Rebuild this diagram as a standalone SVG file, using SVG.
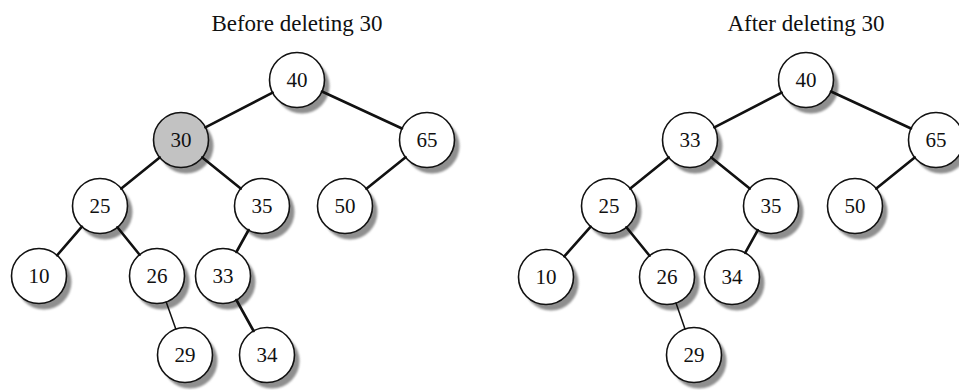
<svg xmlns="http://www.w3.org/2000/svg" width="959" height="390" viewBox="0 0 959 390">
<style>
.sh{fill:#8f8f8f;filter:url(#bl)}
.c{fill:#fff;stroke:#111;stroke-width:1.6}
.g{fill:#c2c2c2}
.t{font-family:"Liberation Serif",serif;font-size:21px;fill:#111;text-anchor:middle;dominant-baseline:central}
.ti{font-family:"Liberation Serif",serif;font-size:23px;fill:#111;text-anchor:middle}
.e line{stroke:#111;stroke-width:2.6;stroke-linecap:round}
.e line.th{stroke-width:1.5}
</style>
<defs>
<filter id="bl" x="-20%" y="-20%" width="140%" height="140%"><feGaussianBlur stdDeviation="1.2"/></filter>
</defs>
<rect width="959" height="390" fill="#fff"/>
<text class="ti" x="297" y="31">Before deleting 30</text>
<text class="ti" x="806" y="31">After deleting 30</text>

<g id="L40"><circle class="sh" cx="302" cy="86" r="27.5"/><circle class="c" cx="297" cy="80" r="27.5"/><text class="t" x="297" y="80">40</text></g>
<g id="L30"><circle class="sh" cx="186" cy="146" r="27.5"/><circle class="c g" cx="181" cy="140" r="27.5"/><text class="t" x="181" y="140">30</text></g>
<g id="L65"><circle class="sh" cx="432" cy="146" r="27.5"/><circle class="c" cx="427" cy="140" r="27.5"/><text class="t" x="427" y="140">65</text></g>
<g id="L25"><circle class="sh" cx="105" cy="212" r="27.5"/><circle class="c" cx="100" cy="206" r="27.5"/><text class="t" x="100" y="206">25</text></g>
<g id="L35"><circle class="sh" cx="267" cy="212" r="27.5"/><circle class="c" cx="262" cy="206" r="27.5"/><text class="t" x="262" y="206">35</text></g>
<g id="L50"><circle class="sh" cx="350" cy="212" r="27.5"/><circle class="c" cx="345" cy="206" r="27.5"/><text class="t" x="345" y="206">50</text></g>
<g id="L10"><circle class="sh" cx="44" cy="282" r="27.5"/><circle class="c" cx="39" cy="276" r="27.5"/><text class="t" x="39" y="276">10</text></g>
<g id="L26"><circle class="sh" cx="162" cy="282" r="27.5"/><circle class="c" cx="157" cy="276" r="27.5"/><text class="t" x="157" y="276">26</text></g>
<g id="L33"><circle class="sh" cx="228" cy="282" r="27.5"/><circle class="c" cx="223" cy="276" r="27.5"/><text class="t" x="223" y="276">33</text></g>
<g id="L29"><circle class="sh" cx="190" cy="361" r="27.5"/><circle class="c" cx="185" cy="355" r="27.5"/><text class="t" x="185" y="355">29</text></g>
<g id="L34"><circle class="sh" cx="272" cy="361" r="27.5"/><circle class="c" cx="267" cy="355" r="27.5"/><text class="t" x="267" y="355">34</text></g>

<g id="R40"><circle class="sh" cx="811" cy="86" r="27.5"/><circle class="c" cx="806" cy="80" r="27.5"/><text class="t" x="806" y="80">40</text></g>
<g id="R33"><circle class="sh" cx="695" cy="146" r="27.5"/><circle class="c" cx="690" cy="140" r="27.5"/><text class="t" x="690" y="140">33</text></g>
<g id="R65"><circle class="sh" cx="941" cy="146" r="27.5"/><circle class="c" cx="936" cy="140" r="27.5"/><text class="t" x="936" y="140">65</text></g>
<g id="R25"><circle class="sh" cx="614" cy="212" r="27.5"/><circle class="c" cx="609" cy="206" r="27.5"/><text class="t" x="609" y="206">25</text></g>
<g id="R35"><circle class="sh" cx="776" cy="212" r="27.5"/><circle class="c" cx="771" cy="206" r="27.5"/><text class="t" x="771" y="206">35</text></g>
<g id="R50"><circle class="sh" cx="860" cy="212" r="27.5"/><circle class="c" cx="855" cy="206" r="27.5"/><text class="t" x="855" y="206">50</text></g>
<g id="R10"><circle class="sh" cx="551" cy="283" r="27.5"/><circle class="c" cx="546" cy="277" r="27.5"/><text class="t" x="546" y="277">10</text></g>
<g id="R26"><circle class="sh" cx="672" cy="283" r="27.5"/><circle class="c" cx="667" cy="277" r="27.5"/><text class="t" x="667" y="277">26</text></g>
<g id="R34"><circle class="sh" cx="737" cy="283" r="27.5"/><circle class="c" cx="732" cy="277" r="27.5"/><text class="t" x="732" y="277">34</text></g>
<g id="R29"><circle class="sh" cx="699" cy="361" r="27.5"/><circle class="c" cx="694" cy="355" r="27.5"/><text class="t" x="694" y="355">29</text></g>

<g id="connectors" class="e">
<line x1="272.6" y1="92.6" x2="205.4" y2="127.4"/>
<line x1="322" y1="91.5" x2="402" y2="128.5"/>
<line x1="159.7" y1="157.4" x2="121.3" y2="188.6"/>
<line x1="202.3" y1="157.4" x2="240.7" y2="188.6"/>
<line x1="405.6" y1="157.2" x2="366.4" y2="188.8"/>
<line x1="81.9" y1="226.7" x2="57.1" y2="255.3"/>
<line x1="117.4" y1="227.3" x2="139.6" y2="254.7"/>
<line x1="248.6" y1="230" x2="236.4" y2="252"/>
<line class="th" x1="166.2" y1="301.9" x2="175.8" y2="329.1"/>
<line x1="236.4" y1="300" x2="253.6" y2="331"/>

<line x1="781.6" y1="92.6" x2="714.4" y2="127.4"/>
<line x1="831" y1="91.5" x2="911" y2="128.5"/>
<line x1="668.7" y1="157.4" x2="630.3" y2="188.6"/>
<line x1="711.3" y1="157.4" x2="749.7" y2="188.6"/>
<line x1="914.7" y1="157.4" x2="876.3" y2="188.6"/>
<line x1="590.7" y1="226.6" x2="564.3" y2="256.4"/>
<line x1="626.4" y1="227.3" x2="649.6" y2="255.7"/>
<line x1="757.8" y1="230.1" x2="745.2" y2="252.9"/>
<line class="th" x1="676" y1="303" x2="685" y2="329"/>
</g>
</svg>
